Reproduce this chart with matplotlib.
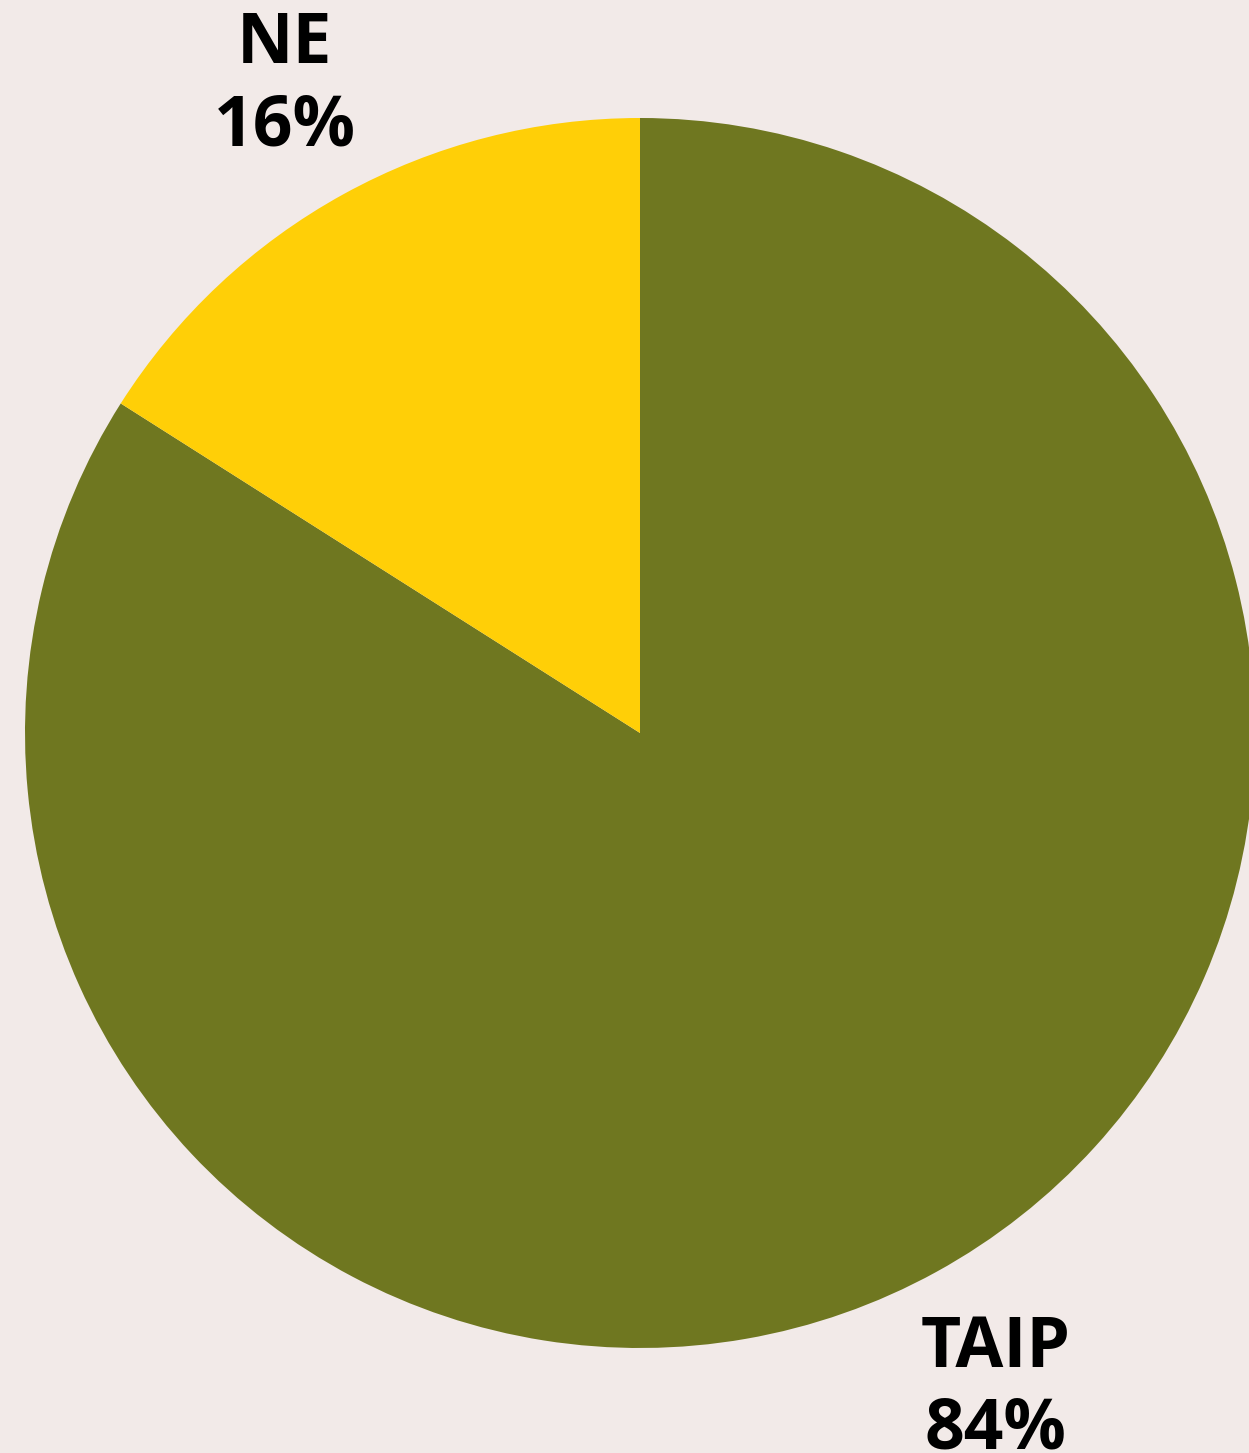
import numpy as np
import matplotlib.pyplot as plt

# data
labels = ["TAIP", "NE"]
values = [84, 16]
colors = ["#6F7720", "#FFCF07"]

bg = "#F2EAE8"
W, H = 1249, 1453
cx, cy, R = 640, H - 733, 615

fig = plt.figure(figsize=(W / 100, H / 100), dpi=100, facecolor=bg)
ax = fig.add_axes([0, 0, 1, 1])
ax.set_facecolor(bg)

wedges, _ = ax.pie(values, colors=colors,
                   startangle=90, counterclock=False,
                   center=(cx, cy), radius=R,
                   wedgeprops=dict(linewidth=0))

# labels outside each wedge, centred on the wedge's mid angle
for w, l, v in zip(wedges, labels, values):
    ang = np.deg2rad((w.theta1 + w.theta2) / 2)
    x = cx + 1.2 * R * np.cos(ang)
    y = cy + 1.2 * R * np.sin(ang)
    if y < cy:
        y -= 10  # lower label sits a little further out
    ax.text(x, y, f"{l}\n{v}%", ha="center", va="center",
            multialignment="center", fontsize=50, fontweight="bold",
            linespacing=1.22, family=["Open Sans", "DejaVu Sans"],
            color="black")

ax.set_xlim(0, W)
ax.set_ylim(0, H)
ax.set_aspect("equal")
ax.axis("off")

fig.savefig("out.png", dpi=100, facecolor=bg)
